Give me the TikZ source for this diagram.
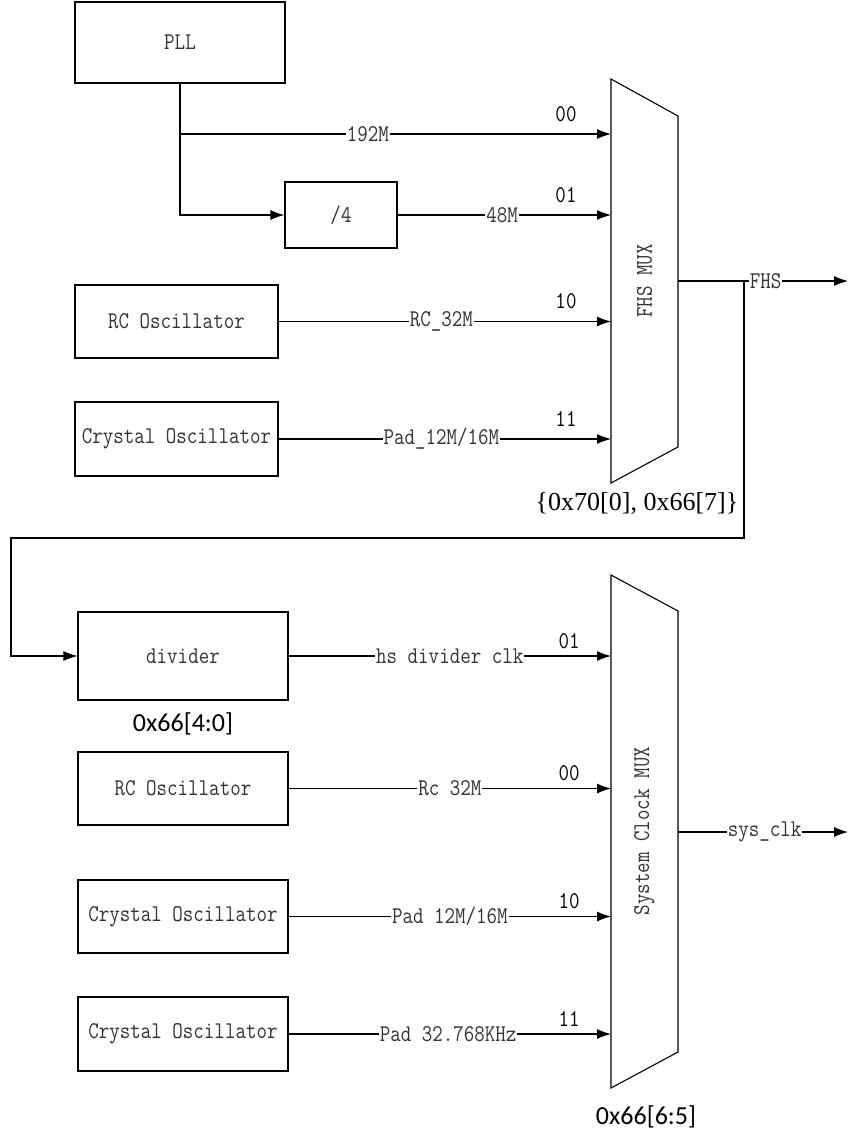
\documentclass[tikz,border=0pt]{standalone}
\usepackage{fontspec}
\newfontfamily\simfont[FakeStretch=0.85]{Latin Modern Mono}
\newfontfamily\regfont{Carlito}
\newfontfamily\bracefont{Liberation Serif}
\usetikzlibrary{arrows.meta,positioning}

\tikzset{
    >={Latex[length=14pt,width=10pt]},
    blk/.style={draw, inner sep=0pt, font=\simfont\fontsize{24}{28}\selectfont, text=black!80},
    sig/.style={fill=white, inner sep=1pt, font=\simfont\fontsize{24}{28}\selectfont, text=black!80},
    sel/.style={inner sep=0pt, font=\simfont\fontsize{24}{28}\selectfont},
    muxtext/.style={rotate=90, inner sep=0pt, font=\simfont\fontsize{24}{28}\selectfont, text=black!80},
    reg/.style={inner sep=0pt, font=\regfont\fontsize{26}{30}\selectfont},
}

\begin{document}
\begin{tikzpicture}[x=1pt, y=-1pt, line width=1.1pt]
        \useasboundingbox (0,0) rectangle (848,1133);

        % sources of the FHS mux
        \node[blk, minimum width=210, minimum height=81] (pll) at (180,42.5) {PLL};
        \node[blk, minimum width=112, minimum height=66] (div4) at (341,215) {/4};
        \node[blk, minimum width=203, minimum height=73] (rcosc) at (176.5,321.5) {RC Oscillator};
        \node[blk, minimum width=203, minimum height=74] (xtal) at (176.5,439) {Crystal Oscillator};

        % FHS mux
        \draw (611,79) -- (678,116) -- (678,447) -- (611,483) -- cycle;
        \node[muxtext] (fhsmux) at (644.5,281) {FHS MUX};
        \coordinate (fhs00) at (611,134);
        \coordinate (fhs01) at (611,215);
        \coordinate (fhs10) at (611,321.5);
        \coordinate (fhs11) at (611,439);
        \foreach \c/\t in {fhs00/00, fhs01/01, fhs10/10, fhs11/11}
            \path (\c) ++(-45,-20) node[sel] (lbl-\c) {\t};

        \draw[->] (pll.south |- fhs00) -- node[sig, pos=0.436] (s192) {192M} (fhs00);
        \draw[->] (pll.south) |- (div4.west);
        \draw[->] (div4.east) -- node[sig, pos=0.49] (s48) {48M} (fhs01);
        \draw[->] (rcosc.east) -- node[sig, pos=0.49] (src) {RC\_32M} (fhs10);
        \draw[->] (xtal.east) -- node[sig, pos=0.49] (spad) {Pad\_12M/16M} (fhs11);

        \node[reg, font=\bracefont\fontsize{26}{30}\selectfont] (fhsreg) at (637,503) {\{0x70[0], 0x66[7]\}};

        % FHS output and feedback to the divider
        \coordinate (fhsout) at (678,281);
        \coordinate (fhsend) at (848,281);
        \coordinate (fhsj) at (744,281);
        \coordinate (fbcorner) at (11,538);
        \draw[->] (fhsout) -- node[sig, pos=0.515] (sfhs) {FHS} (fhsend);

        % sources of the system clock mux
        \node[blk, minimum width=210, minimum height=88] (divider) at (183,656) {divider};
        \node[reg] (divreg) at (183,724) {0x66[4:0]};
        \node[blk, minimum width=210, minimum height=73] (rcosc2) at (183,788.5) {RC Oscillator};
        \node[blk, minimum width=210, minimum height=73] (xtal2) at (183,916.5) {Crystal Oscillator};
        \node[blk, minimum width=210, minimum height=74] (xtal3) at (183,1034) {Crystal Oscillator};
        \draw[->] (fhsj) |- (fbcorner) |- (divider.west);

        % system clock mux
        \draw (611,575) -- (678,611) -- (678,1052) -- (611,1088) -- cycle;
        \node[muxtext] (sysmux) at (644.5,831) {System Clock MUX};
        \coordinate (sys01) at (611,656);
        \coordinate (sys00) at (611,788.5);
        \coordinate (sys10) at (611,916.5);
        \coordinate (sys11) at (611,1034);
        \foreach \c/\t in {sys01/01, sys00/00, sys10/10, sys11/11}
            \path (\c) ++(-42,-15) node[sel] (lbl-\c) {\t};

        \draw[->] (divider.east) -- node[sig] (shs) {hs divider clk} (sys01);
        \draw[->] (rcosc2.east) -- node[sig] (src2) {Rc 32M} (sys00);
        \draw[->] (xtal2.east) -- node[sig] (spad2) {Pad 12M/16M} (sys10);
        \draw[->] (xtal3.east) -- node[sig, pos=0.495] (spad3) {Pad 32.768KHz} (sys11);

        \node[reg] (sysreg) at (646,1117) {0x66[6:5]};

        % system clock output
        \coordinate (sysout) at (678,832);
        \coordinate (sysend) at (848,832);
        \draw[->] (sysout) -- node[sig, pos=0.51] (ssys) {sys\_clk} (sysend);
    \end{tikzpicture}
\end{document}
